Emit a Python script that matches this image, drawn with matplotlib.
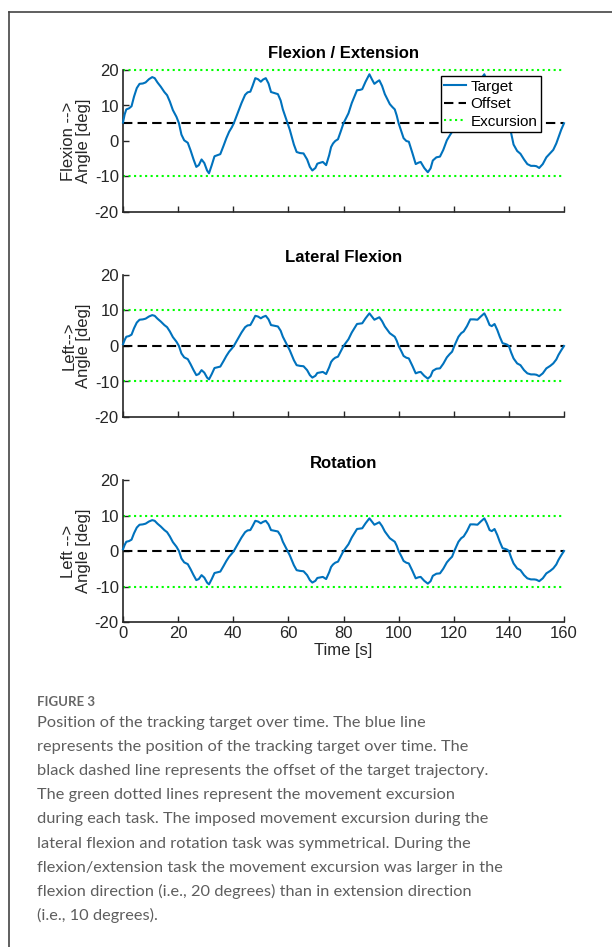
import matplotlib.pyplot as plt
from matplotlib.lines import Line2D

plt.rcParams['font.family'] = ['Liberation Sans', 'DejaVu Sans']
plt.rcParams['axes.unicode_minus'] = False

# Data, one shared time base for the three tasks
time_s = [
    0, 0.6, 1.2, 2.2, 3.1, 4, 5, 6, 7.2, 8.2, 9.4, 10.6, 11.5, 12.5, 13.7, 15, 16,
    17, 18.1, 19.4, 20.3, 21.2, 22.2, 23.5, 24.5, 25.6, 26.6, 27.5, 28.5, 29.5,
    30.5, 31.2, 32.2, 33.2, 34.3, 35.3, 36.5, 37.5, 38.5, 39.5, 40.2,
    41.8, 43, 44.3, 45.2, 46.2, 47, 48, 49, 50, 50.8, 51.8, 52.8, 53.7, 55, 56.2,
    57.2, 58, 59.7, 60.5, 61.2, 62, 63, 64.2, 65.5, 66.8, 67.8, 68.7, 69.8, 70.5,
    71.2, 72.5, 73.7, 74.8, 75.5, 76.2, 77, 78, 79, 80,
    81.8, 83, 84.9, 86, 86.8, 88, 89.4, 90.3, 91.2, 92.2, 93, 94, 95, 96.8, 97.7,
    98.6, 99.3, 100, 101, 101.8, 102.8, 103.7, 105, 106.2, 107.2, 108, 109.3,
    110.6, 111.6, 112.4, 113.7, 115, 116.2, 117.5, 118.5, 119.4, 120.2,
    121.7, 122.7, 123.6, 124.8, 126, 127.3, 128.6, 129.8, 131.1, 132, 133, 133.8,
    134.8, 135.8, 136.7, 137.7, 138.6, 139.3, 140, 140.8, 141.7, 143, 144.2,
    145.5, 146.7, 148, 149.2, 150, 151, 152.3, 153.6, 155, 156.1, 157.2, 158, 159,
    160]
flexion_deg = [
    5.2, 7.5, 8.9, 9.2, 9.8, 12.5, 14.9, 16.1, 16.2, 16.5, 17.4, 18, 17.7, 16.5,
    15.3, 13.8, 12.9, 11.1, 8.7, 6.8, 5, 1.8, 0.2, -0.5, -2.6, -5.2, -7.3, -6.8,
    -5.2, -6.2, -8.3, -9.1, -6.8, -4.3, -4, -3.7, -1.3, 0.8, 2.6, 3.9, 5,
    8.3, 10.7, 13, 13.7, 13.9, 15.5, 17.7, 17.4, 16.7, 17.3, 17.7, 16.2, 13.8,
    13.5, 13.2, 11.4, 8.9, 5, 3.2, 1.2, -1, -3.1, -3.4, -3.5, -5.2, -7.3, -8.3,
    -7.6, -6.4, -6.2, -5.9, -6.8, -4, -1.7, -0.7, 0, 0.5, 2.7, 5,
    7.8, 10.7, 14.3, 14.4, 14.6, 16.7, 18.8, 17.4, 16.1, 16.7, 17.1, 15.5, 13.2,
    10.4, 9.6, 8.9, 7.2, 5, 2.7, 0.8, 0, -0.2, -3.4, -6.5, -6.1, -5.9, -7.6,
    -8.8, -7.7, -5.5, -4.6, -4.4, -2.5, 0.2, 1.5, 2.6, 5,
    8.9, 10.4, 11.2, 13.4, 16.2, 16.2, 16.1, 17.4, 18.8, 16.7, 13.8, 13.4, 14.3,
    11.7, 8.9, 6.2, 5.9, 5.6, 5, 2.3, -1, -2.8, -3.6, -5.2, -6.5, -7, -7, -7.1,
    -7.6, -6.5, -4.6, -3.4, -2.5, -0.7, 1, 3.2, 5]
lateral_deg = [
    0.5, 1.7, 2.6, 2.8, 3.2, 5, 6.6, 7.4, 7.5, 7.7, 8.3, 8.7, 8.5, 7.7, 6.9, 5.9,
    5.3, 4.1, 2.5, 1.2, 0, -2.1, -3.2, -3.7, -5.1, -6.8, -8.2, -7.9, -6.8, -7.5,
    -8.9, -9.4, -7.9, -6.2, -6, -5.8, -4.2, -2.8, -1.6, -0.7, 0,
    2.2, 3.8, 5.3, 5.8, 5.9, 7, 8.5, 8.3, 7.8, 8.2, 8.5, 7.5, 5.9, 5.7, 5.5, 4.3,
    2.6, 0, -1.2, -2.5, -4, -5.4, -5.6, -5.7, -6.8, -8.2, -8.9, -8.4, -7.6, -7.5,
    -7.3, -7.9, -6, -4.5, -3.8, -3.3, -3, -1.5, 0,
    1.9, 3.8, 6.2, 6.3, 6.4, 7.8, 9.2, 8.3, 7.4, 7.8, 8.1, 7, 5.5, 3.6, 3.1, 2.6,
    1.5, 0, -1.5, -2.8, -3.3, -3.5, -5.6, -7.7, -7.4, -7.3, -8.4, -9.2, -8.5, -7,
    -6.4, -6.3, -5, -3.2, -2.3, -1.6, 0,
    2.6, 3.6, 4.1, 5.6, 7.5, 7.5, 7.4, 8.3, 9.2, 7.8, 5.9, 5.6, 6.2, 4.5, 2.6, 0.8,
    0.6, 0.4, 0, -1.8, -3.5, -4.9, -5.4, -6.8, -7.7, -8, -8, -8.1, -8.5, -7.7,
    -6.3, -5.6, -4.9, -3.8, -2.5, -1.2, 0]
rotation_deg = [
    0.5, 1.7, 2.6, 2.8, 3.2, 5, 6.6, 7.4, 7.5, 7.7, 8.3, 8.7, 8.5, 7.7, 6.9, 5.9,
    5.3, 4.1, 2.5, 1.2, 0, -2.1, -3.2, -3.7, -5.1, -6.8, -8.2, -7.9, -6.8, -7.5,
    -8.9, -9.4, -7.9, -6.2, -6, -5.8, -4.2, -2.8, -1.6, -0.7, 0,
    2.2, 3.8, 5.3, 5.8, 5.9, 7, 8.5, 8.3, 7.8, 8.2, 8.5, 7.5, 5.9, 5.7, 5.5, 4.3,
    2.6, 0, -1.2, -2.5, -4, -5.4, -5.6, -5.7, -6.8, -8.2, -8.9, -8.4, -7.6, -7.5,
    -7.3, -7.9, -6, -4.5, -3.8, -3.3, -3, -1.5, 0,
    1.9, 3.8, 6.2, 6.3, 6.4, 7.8, 9.2, 8.3, 7.4, 7.8, 8.1, 7, 5.5, 3.6, 3.1, 2.6,
    1.5, 0, -1.5, -2.8, -3.3, -3.5, -5.6, -7.7, -7.4, -7.3, -8.4, -9.2, -8.5, -7,
    -6.4, -6.3, -5, -3.2, -2.3, -1.6, 0,
    2.6, 3.6, 4.1, 5.6, 7.5, 7.5, 7.4, 8.3, 9.2, 7.8, 5.9, 5.6, 6.2, 4.5, 2.6, 0.8,
    0.6, 0.4, 0, -1.8, -3.5, -4.9, -5.4, -6.8, -7.7, -8, -8, -8.1, -8.5, -7.7,
    -6.3, -5.6, -4.9, -3.8, -2.5, -1.2, 0]

titles = ['Flexion / Extension', 'Lateral Flexion', 'Rotation']
ylabels = ['Flexion -->\nAngle [deg]', 'Left-->\nAngle [deg]', 'Left -->\nAngle [deg]']
offsets = [5, 0, 0]
excursions = [(20, -10), (10, -10), (10, -10)]
yticks = [-20, -10, 0, 10, 20]
xticks = [0, 20, 40, 60, 80, 100, 120, 140, 160]

caption_head = 'FIGURE 3'
caption_lines = [
    'Position of the tracking target over time. The blue line',
    'represents the position of the tracking target over time. The',
    'black dashed line represents the offset of the target trajectory.',
    'The green dotted lines represent the movement excursion',
    'during each task. The imposed movement excursion during the',
    'lateral flexion and rotation task was symmetrical. During the',
    'flexion/extension task the movement excursion was larger in the',
    'flexion direction (i.e., 20 degrees) than in extension direction',
    '(i.e., 10 degrees).',
]

series = [flexion_deg, lateral_deg, rotation_deg]

# Layout (pixel positions of the reference, 612x947)
W, H = 612, 947
fig = plt.figure(figsize=(W / 100, H / 100), dpi=100)
ax_left, ax_right = 123, 564
ax_tops = [70, 275, 480]
ax_h = 142

blue = '#0072BD'
ink = '#262626'
fs = 12
axes = []
for i in range(3):
    ax = fig.add_axes([ax_left / W, 1 - (ax_tops[i] + ax_h) / H,
                       (ax_right - ax_left) / W, ax_h / H])
    ax.plot(time_s, series[i], color=blue, lw=1.5, label='Target', clip_on=False,
            zorder=3, solid_joinstyle='round')
    ax.plot([0, 160], [offsets[i]] * 2, color='black', ls='--', dashes=(4.5, 2.5),
            lw=1.5, label='Offset', clip_on=False, zorder=2)
    hi, lo = excursions[i]
    ax.plot([0, 160], [hi, hi], color='#00ff00', ls=':', lw=1.5,
            label='Excursion', clip_on=False, zorder=2)
    ax.plot([0, 160], [lo, lo], color='#00ff00', ls=':', lw=1.5, clip_on=False,
            zorder=2)

    ax.set_xlim(0, 160)
    ax.set_ylim(-20, 20)
    ax.set_yticks(yticks)
    ax.set_yticklabels([str(v) for v in yticks])
    ax.set_xticks(xticks)
    if i < 2:
        ax.set_xticklabels([])
    else:
        ax.set_xticklabels([str(v) for v in xticks])
        ax.set_xlabel('Time [s]', fontsize=fs, color=ink, labelpad=1)
    for s in ['top', 'right']:
        ax.spines[s].set_visible(False)
    for s in ['left', 'bottom']:
        ax.spines[s].set_linewidth(1.2)
        ax.spines[s].set_color(ink)
    ax.tick_params(direction='in', length=4, width=1.0, labelsize=fs,
                   colors=ink, pad=3)
    ax.set_title(titles[i], fontsize=12, fontweight='bold', pad=9)
    ax.set_ylabel(ylabels[i], fontsize=fs, color=ink, linespacing=1.0)
    ax.yaxis.set_label_coords(-0.072, 0.5)
    axes.append(ax)

leg = axes[0].legend(loc='upper right', bbox_to_anchor=(0.948, 0.958),
                     borderaxespad=0, fontsize=11, handlelength=1.4,
                     handletextpad=0.3, borderpad=0.25, labelspacing=0.22,
                     fancybox=False, framealpha=1, edgecolor='black')
leg.get_frame().set_linewidth(1.0)
leg.set_zorder(5)

# Caption
cap_font = ['Lato', 'DejaVu Sans']
fig.text(37 / W, 1 - 702 / H, caption_head, fontsize=9.5, color='#666666',
         family=cap_font, fontweight='bold', va='center', ha='left')
for k, line in enumerate(caption_lines):
    fig.text(37 / W, 1 - (723 + 24.1 * k) / H, line, fontsize=11.8,
             color='#5e5e5e', family=cap_font, va='center', ha='left')

# Frame
fig.add_artist(Line2D([9 / W, 9 / W], [0, 1 - 12 / H], color='#444444', lw=1.2,
                      transform=fig.transFigure))
fig.add_artist(Line2D([9 / W, 1], [1 - 12 / H, 1 - 12 / H], color='#444444',
                      lw=1.2, transform=fig.transFigure))

fig.savefig('out.png', dpi=100)
